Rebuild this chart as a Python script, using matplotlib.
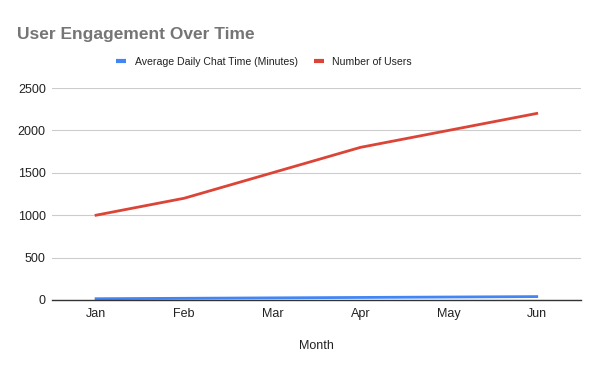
import matplotlib.pyplot as plt
from matplotlib.lines import Line2D

months = ['Jan', 'Feb', 'Mar', 'Apr', 'May', 'Jun']
chat_time = [15, 20, 25, 30, 35, 40]
users = [1000, 1200, 1500, 1800, 2000, 2200]

plt.rcParams['font.family'] = ['Liberation Sans', 'DejaVu Sans']

fig = plt.figure(figsize=(6, 3.71), dpi=100)
ax = fig.add_axes([0.0867, 0.1914, 0.8813, 0.5714])

x = range(len(months))
ax.plot(x, chat_time, color='#4285F4', lw=2, label='Average Daily Chat Time (Minutes)')
ax.plot(x, users, color='#DB4437', lw=2, label='Number of Users')

ax.set_xlim(-0.5, len(months) - 0.5)
ax.set_ylim(0, 2500)
ax.set_yticks([0, 500, 1000, 1500, 2000, 2500])
ax.set_xticks(list(x))
ax.set_xticklabels(months)
ax.tick_params(length=0, labelsize=9, colors='#222222')
ax.tick_params(axis='y', pad=4.5)
ax.tick_params(axis='x', pad=6)
ax.grid(axis='y', color='#cccccc', lw=0.8)
ax.set_axisbelow(True)
for s in ['top', 'right', 'left']:
    ax.spines[s].set_visible(False)
ax.spines['bottom'].set_color('#333333')
ax.spines['bottom'].set_linewidth(1)
ax.set_xlabel('Month', fontsize=9, color='#222222', labelpad=14)

fig.text(0.028, 0.907, 'User Engagement Over Time', fontsize=12.5, fontweight='bold',
         color='#757575', va='center')

handles = [Line2D([], [], color='#4285F4', lw=3, solid_capstyle='butt'),
           Line2D([], [], color='#DB4437', lw=3, solid_capstyle='butt')]
fig.legend(handles, ['Average Daily Chat Time (Minutes)', 'Number of Users'],
           loc='center left', bbox_to_anchor=(0.178, 0.833), ncol=2, frameon=False,
           fontsize=7.6, handlelength=0.95, handletextpad=0.8, columnspacing=1.5,
           labelcolor='#222222')

fig.savefig('out.png', dpi=100)
